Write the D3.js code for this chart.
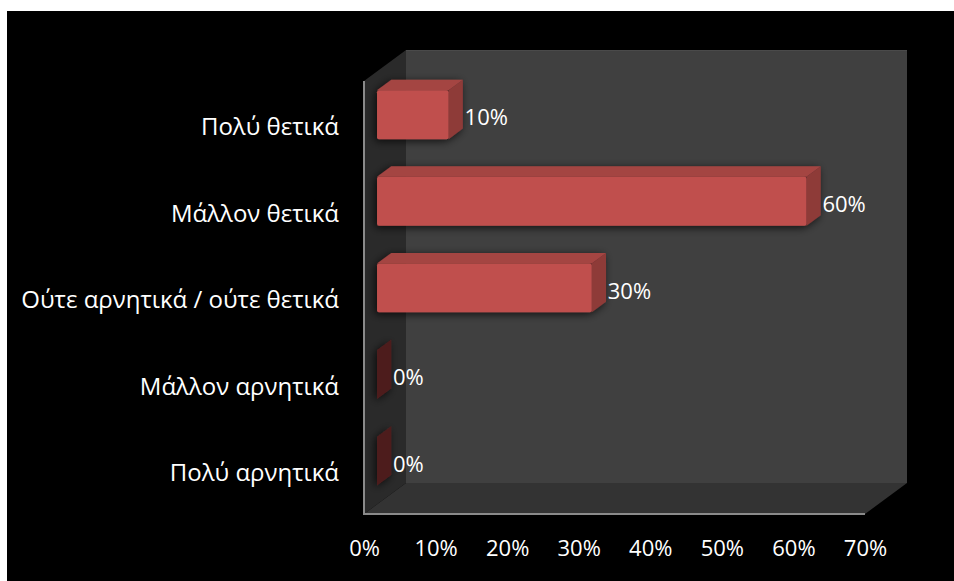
<!DOCTYPE html>
<html>
<head>
<meta charset="utf-8">
<script src="https://cdn.jsdelivr.net/npm/d3@7"></script>
<style>
  html, body { margin: 0; padding: 0; background: #ffffff; }
  svg { display: block; }
  text { font-family: "Open Sans", "Noto Sans", sans-serif; fill: #ffffff; }
</style>
</head>
<body>
<svg id="chart" width="954" height="581"></svg>
<script>
// Responses (share of answers, %)
const categories = [
  "Πολύ θετικά",
  "Μάλλον θετικά",
  "Ούτε αρνητικά / ούτε θετικά",
  "Μάλλον αρνητικά",
  "Πολύ αρνητικά"
];
const values = [10, 60, 30, 0, 0];
const tickValues = [0, 10, 20, 30, 40, 50, 60, 70];

const svg = d3.select("#chart");

// Frame
svg.append("rect").attr("x", 7).attr("y", 11).attr("width", 947).attr("height", 570).attr("fill", "#000");

// Front plane of the 3D box
const x = d3.scaleLinear().domain([0, 70]).range([364, 865]);
const y = d3.scaleBand().domain(categories).range([81, 514]).padding(0);

// Depth projection: z in [0,1] shifts right and up
const DX = 42, DY = -31;
const px = z => z * DX, py = z => z * DY;

const x0 = x.range()[0], x1 = x.range()[1];
const yTop = y.range()[0], yBot = y.range()[1];

const walls = svg.append("g");
// back wall
walls.append("rect")
  .attr("x", x0 + px(1)).attr("y", yTop + py(1))
  .attr("width", x1 - x0).attr("height", yBot - yTop)
  .attr("fill", "#404040");
walls.append("line")
  .attr("x1", x0 + px(1)).attr("x2", x1 + px(1))
  .attr("y1", yTop + py(1) + 0.5).attr("y2", yTop + py(1) + 0.5)
  .attr("stroke", "#4a4a4a").attr("stroke-width", 1);
// side wall
walls.append("polygon")
  .attr("points", [[x0, yTop], [x0 + px(1), yTop + py(1)], [x0 + px(1), yBot + py(1)], [x0, yBot]].join(" "))
  .attr("fill", "#2a2a2a");
// floor
walls.append("polygon")
  .attr("points", [[x0, yBot], [x0 + px(1), yBot + py(1)], [x1 + px(1), yBot + py(1)], [x1, yBot]].join(" "))
  .attr("fill", "#333333");
// front edges
walls.append("path")
  .attr("d", `M${x0},${yTop} L${x0},${yBot} L${x1},${yBot}`)
  .attr("fill", "none").attr("stroke", "#8a8a8a").attr("stroke-width", 2);

// Shadow filter for the bars
const defs = svg.append("defs");
const f = defs.append("filter").attr("id", "shadow").attr("x", "-30%").attr("y", "-30%").attr("width", "160%").attr("height", "160%");
f.append("feDropShadow").attr("dx", -2).attr("dy", 2).attr("stdDeviation", 4)
  .attr("flood-color", "#000").attr("flood-opacity", 0.75);

const zFront = 0.31, zBack = 0.65;
const barH = y.bandwidth() * 0.565;

const bars = svg.append("g").attr("filter", "url(#shadow)");

categories.forEach((c, i) => {
  const v = values[i];
  const yc = y(c) + y.bandwidth() / 2;
  const xl = x(0), xr = x(v);
  const yt = yc - barH / 2, yb = yc + barH / 2;
  const g = bars.append("g");
  const P = (xx, yy, z) => [xx + px(z), yy + py(z)];
  // right side face
  g.append("polygon")
    .attr("points", [P(xr, yt, zFront), P(xr, yt, zBack), P(xr, yb, zBack), P(xr, yb, zFront)].join(" "))
    .attr("fill", v === 0 ? "#4e1d1d" : "#8e3a38");
  if (v > 0) {
    // top face
    g.append("polygon")
      .attr("points", [P(xl, yt, zFront), P(xr, yt, zFront), P(xr, yt, zBack), P(xl, yt, zBack)].join(" "))
      .attr("fill", "#a44442");
    // front face
    g.append("rect")
      .attr("x", xl + px(zFront)).attr("y", yt + py(zFront))
      .attr("width", xr - xl).attr("height", barH)
      .attr("rx", 2)
      .attr("fill", "#c0504d");
  }
});

// Value labels
const fmt = d => d3.format(".0%")(d / 100);
svg.append("g").selectAll("text")
  .data(categories)
  .join("text")
  .attr("x", (c, i) => x(values[i]) + px(zFront) + 16)
  .attr("y", c => y(c) + y.bandwidth() / 2 + py(zFront) + 3)
  .attr("dy", "0.35em")
  .attr("font-size", 22)
  .text((c, i) => fmt(values[i]));

// Category axis
const yAxis = svg.append("g")
  .attr("transform", `translate(${x0 - 25},3)`)
  .call(d3.axisLeft(y).tickSize(0).tickPadding(0));
yAxis.select(".domain").remove();
yAxis.selectAll("text").attr("font-size", 24).attr("fill", "#fff")
  .style("font-family", '"Open Sans", "Noto Sans", sans-serif');

// Value axis
const xAxis = svg.append("g")
  .attr("transform", `translate(0,${yBot})`)
  .call(d3.axisBottom(x).tickValues(tickValues).tickFormat(fmt).tickSize(0).tickPadding(26));
xAxis.select(".domain").remove();
xAxis.selectAll("text").attr("font-size", 22).attr("fill", "#fff")
  .style("font-family", '"Open Sans", "Noto Sans", sans-serif');
</script>
</body>
</html>
